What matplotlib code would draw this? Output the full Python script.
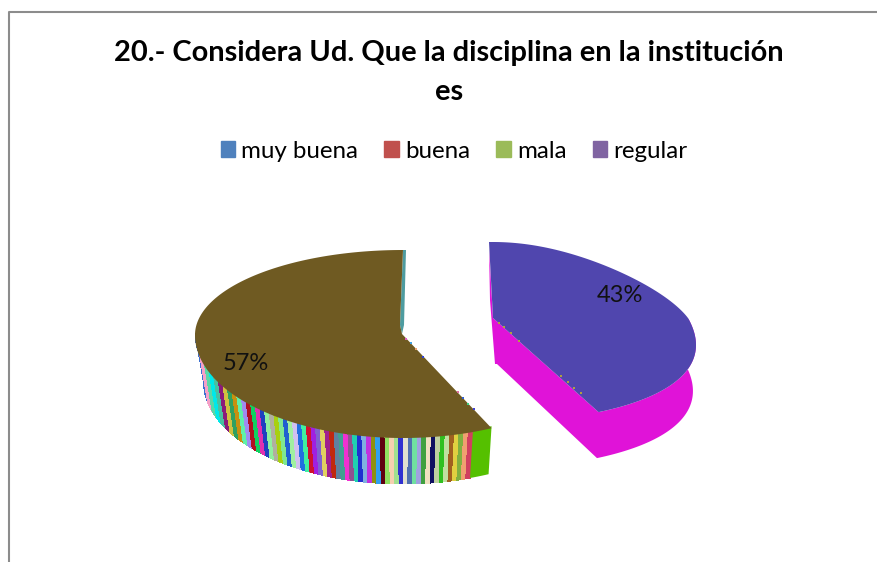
import numpy as np
import matplotlib
matplotlib.use("Agg")
import matplotlib.pyplot as plt
from matplotlib.patches import Patch, Polygon

title = "20.- Considera Ud. Que la disciplina en la institución\nes"
categories = ["muy buena", "buena", "mala", "regular"]
legend_colors = ["#4F81BD", "#C0504D", "#9BBB59", "#8064A2"]
values = [0, 0, 57, 43]

# the broken palette of the picture: one colour per stripe of the rim, left to right
rim_colors = [
    "#3A6FD0", "#F5A0C8", "#58D8A8", "#00E8E8", "#48C0A0", "#8A1A7A", "#D0C040", "#30A060",
    "#C89010", "#60F0A8", "#A08CF0", "#B01020", "#10D060", "#E030B0", "#2040C0", "#90F0A0",
    "#B0B0A0", "#A8D010", "#80E890", "#2060D0", "#A0F0A0", "#D0C0F0", "#2070E0", "#40F0A0",
    "#D01030", "#A020E0", "#8060D0", "#E0D060", "#A02090", "#C02810", "#6080A0", "#40A090",
    "#F030D0", "#905090", "#20D0B0", "#2030D0", "#80B0E0", "#C030E0", "#909010", "#30A0F0",
    "#600010", "#90E060", "#F5D0B0", "#A0E090", "#3030D0", "#E0E0D0", "#5070B0", "#70E0A0",
    "#A0A0E0", "#40A040", "#F0E0C0", "#101060", "#C0D0A0", "#30C020", "#C0E0A0", "#A06020",
    "#E0D040", "#80B040", "#F0A070", "#D04060",
]
speck_fracs = [0.05, 0.1, 0.16, 0.24, 0.62, 0.68, 0.74, 0.8]
speck_colors = ["#E060C0", "#40A0E0", "#E8A070", "#3040D0", "#E070A0", "#3060D0", "#40D080", "#4040D0"]
brown = "#6F5A22"
green = "#55C000"
teal = "#4E9CA0"
purple = "#5046AE"
magenta = "#E013D8"


def rim_point(theta, ax0, ay0, rx, ry_top, ry_bot, k):
    # squashed pie with a bit of perspective, theta clockwise from 12 o'clock
    s = np.sin(theta)
    c = np.cos(theta)
    x = ax0 + rx * s * (1 - k * c)
    y = ay0 - np.where(c > 0, ry_top, ry_bot) * c
    return x, y


fig = plt.figure(figsize=(8.77, 5.62), dpi=100)
ax = fig.add_axes([0, 0, 1, 1])
ax.set_xlim(0, 877)
ax.set_ylim(562, 0)
ax.axis("off")

ax.plot([9, 9, 877], [562, 12, 12], color="#8C8C8C", lw=1.5)

split = 2 * np.pi * values[3] / sum(values)

# regular, pulled out to the right
t = np.linspace(0, split, 200)
x, y = rim_point(t, 493, 318, 195, 76, 104, 0.3)
depth = 46
mask = t > np.pi / 2
low = 493 + (x - 493) * 0.985
side = np.r_[[[489, 248], [493, 318]], np.c_[x[mask], y[mask]][::-1], np.c_[low[mask], y[mask] + depth],
             [[497, 318 + depth], [495, 318 + depth], [490, 300]]]
ax.add_patch(Polygon(side, color=magenta, lw=0))
ax.add_patch(Polygon(np.r_[[[493, 318], [489, 242]], np.c_[x, y]], color=purple, lw=0))

# mala, the big slice
t = np.linspace(split, 2 * np.pi, 400)
x, y = rim_point(t, 403, 335, 208, 85, 103, 0)
front = t <= 3 * np.pi / 2
xf, yf = x[front][::-1], y[front][::-1]
edges = np.linspace(xf[0], 473, len(rim_colors) + 1)
for i, col in enumerate(rim_colors):
    xs = np.linspace(edges[i], edges[i + 1] + 0.5, 6)
    ys = np.interp(xs, xf, yf)
    lowx = 403 + (xs - 403) * 0.96
    ax.add_patch(Polygon(np.r_[np.c_[xs, ys - 2], np.c_[lowx, ys + 46][::-1]], color=col, lw=0, antialiased=False))
xs = np.linspace(473, xf[-1], 6)
ys = np.interp(xs, xf, yf)
ax.add_patch(Polygon(np.r_[np.c_[xs, ys - 2], np.c_[xs - 3, ys + 46][::-1]], color=green, lw=0))
ax.add_patch(Polygon([[403, 250], [406, 250], [404, 325], [402, 334], [400, 325]], color=teal, lw=0))
ax.add_patch(Polygon(np.r_[[[402, 334], [400, 325], [403, 250]], np.c_[x[::-1], y[::-1]]], color=brown, lw=0))

# pixel noise along the straight cut of both slices
for f, col in zip(speck_fracs, speck_colors):
    ax.scatter(402 + f * (x[0] - 402), 334 + f * (y[0] - 334), s=4, color=col, marker="s", lw=0, zorder=3)
    ax.scatter(493 + f * (603 - 493), 318 + f * (412 - 318), s=3, color="#B0A040", marker="s", lw=0, zorder=3)

ax.text(246, 363, f"{values[2]}%", fontsize=17, family="Lato", ha="center", va="center", color="#111111")
ax.text(620, 295, f"{values[3]}%", fontsize=17, family="Lato", ha="center", va="center", color="#111111")

ax.text(449, 72.5, title, fontsize=20.9, family="Lato", weight="bold", ha="center", va="center", linespacing=1.6)

handles = [Patch(color=c, label=n) for c, n in zip(legend_colors, categories)]
fig.legend(handles=handles, ncol=4, loc="center", bbox_to_anchor=(454 / 877, 1 - 151 / 562), frameon=False,
           prop={"family": "Lato", "size": 17.4}, handlelength=0.6, handleheight=0.6, handletextpad=0.25,
           columnspacing=1.08)

fig.savefig("out.png", dpi=100)
